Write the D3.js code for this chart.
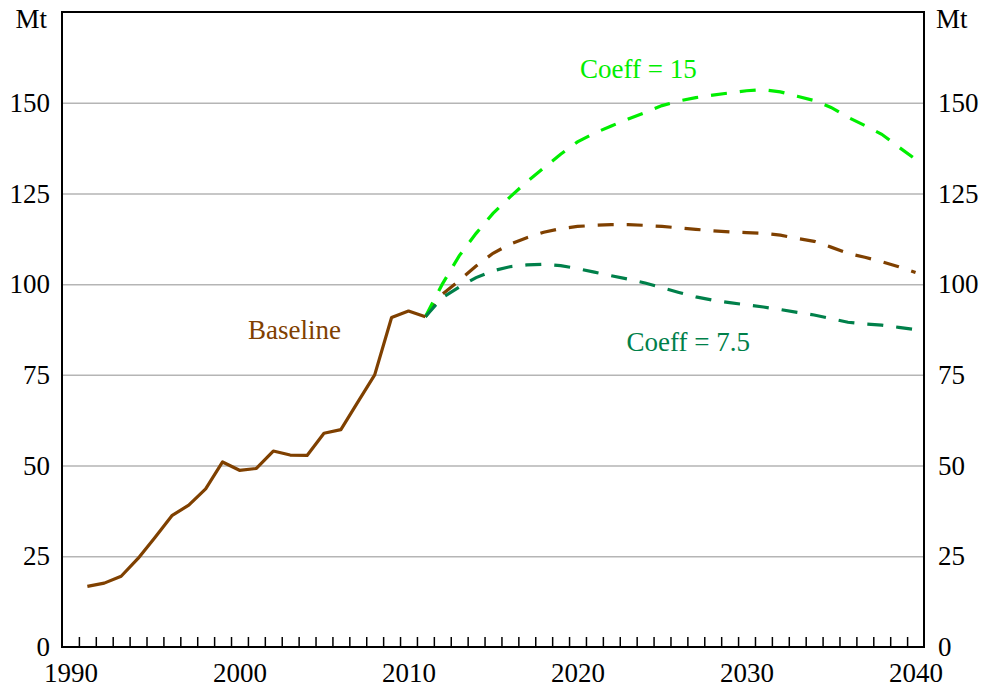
<!DOCTYPE html>
<html>
<head>
<meta charset="utf-8">
<script src="https://cdn.jsdelivr.net/npm/d3@7"></script>
<style>
	body { margin: 0; background: #fff; }
	text { font-family: 'Liberation Serif', 'Times New Roman', serif; }
</style>
</head>
<body>
<div id="canvas"></div>
<script>
// historical series
const baselineYears = [1991, 1992, 1993, 1994, 1995, 1996, 1997, 1998, 1999, 2000, 2001,
	2002, 2003, 2004, 2005, 2006, 2007, 2008, 2009, 2010, 2011];
const baselineValues = [16.7, 17.6, 19.5, 24.4, 30.2, 36.2, 39.1, 43.6, 51.0, 48.7, 49.2,
	54.0, 52.9, 52.8, 58.9, 59.9, 67.5, 75.0, 90.8, 92.6, 91.0];

// projections
const projYears = [2011, 2012, 2013, 2014, 2015, 2016, 2017, 2018, 2019, 2020,
	2021, 2022, 2023, 2024, 2025, 2026, 2027, 2028, 2029, 2030,
	2031, 2032, 2033, 2034, 2035, 2036, 2037, 2038, 2039, 2040];
const baselineProj = [91.0, 97.2, 101.0, 105.0, 108.5, 111.0, 112.8, 114.3, 115.3, 115.9,
	116.2, 116.4, 116.4, 116.2, 115.9, 115.5, 115.1, 114.7, 114.4, 114.2,
	114.0, 113.5, 112.6, 111.8, 110.2, 108.5, 107.4, 106.2, 104.8, 103.2];
const coeff15 = [91.0, 100.0, 107.8, 114.0, 119.5, 124.0, 128.2, 132.0, 135.8, 139.2,
	141.6, 143.6, 145.5, 147.3, 149.2, 150.5, 151.4, 152.1, 152.7, 153.3,
	153.6, 153.0, 151.8, 150.6, 148.7, 146.0, 143.7, 141.3, 137.8, 134.4];
const coeff75 = [91.0, 96.3, 99.2, 101.8, 103.7, 104.8, 105.3, 105.5, 105.1, 104.3,
	103.3, 102.3, 101.4, 100.3, 99.0, 97.7, 96.5, 95.6, 94.9, 94.3,
	93.7, 93.0, 92.2, 91.5, 90.5, 89.5, 89.0, 88.7, 88.1, 87.5];

const yTicks = [0, 25, 50, 75, 100, 125, 150];
const yearLabels = [1990, 2000, 2010, 2020, 2030, 2040];

const brown = '#7f4000';
const lime = '#00ee00';
const darkGreen = '#00804a';

const w = 986;
const h = 689;
const plotLeft = 62, plotRight = 924, plotTop = 12, plotBottom = 647;

// annual data sits mid-year, ticks mark year boundaries
const xScale = d3.scaleLinear()
									.domain([1990, 2041])
									.range([plotLeft, plotRight]);

const yScale = d3.scaleLinear()
									.domain([0, 175])
									.range([plotBottom, plotTop]);

const svg = d3.select('#canvas')
							.append('svg')
							.attr('width', w)
							.attr('height', h);

// gridlines
svg.append('g')
		.attr('transform', 'translate(' + plotLeft + ', 0)')
		.call(d3.axisLeft(yScale).tickValues(yTicks.slice(1)).tickSize(-(plotRight - plotLeft)).tickFormat(''))
		.call(g => g.select('.domain').remove())
		.call(g => g.selectAll('line').attr('stroke', '#b5b5b5').attr('stroke-width', 1.5));

// frame
svg.append('rect')
		.attr('x', plotLeft)
		.attr('y', plotTop)
		.attr('width', plotRight - plotLeft)
		.attr('height', plotBottom - plotTop)
		.attr('fill', 'none')
		.attr('stroke', '#000')
		.attr('stroke-width', 2);

// yearly ticks pointing up
svg.append('g')
		.attr('transform', 'translate(0, ' + plotBottom + ')')
		.call(d3.axisBottom(xScale).tickValues(d3.range(1991, 2041)).tickSize(-10).tickFormat(''))
		.call(g => g.select('.domain').remove())
		.call(g => g.selectAll('line').attr('stroke', '#000').attr('stroke-width', 1.5));

// year labels
svg.append('g')
		.attr('transform', 'translate(0, ' + plotBottom + ')')
		.call(d3.axisBottom(xScale).tickValues(yearLabels.map(d => d + 0.5)).tickSize(0).tickPadding(16).tickFormat(d => Math.floor(d)))
		.call(g => g.select('.domain').remove())
		.call(g => g.selectAll('text').attr('font-size', 27).attr('fill', '#000').attr('font-family', 'Liberation Serif'));

// y labels both sides
svg.append('g')
		.attr('transform', 'translate(' + plotLeft + ', 0)')
		.call(d3.axisLeft(yScale).tickValues(yTicks).tickSize(0).tickPadding(12))
		.call(g => g.select('.domain').remove())
		.call(g => g.selectAll('text').attr('font-size', 27).attr('fill', '#000').attr('font-family', 'Liberation Serif'));

svg.append('g')
		.attr('transform', 'translate(' + plotRight + ', 0)')
		.call(d3.axisRight(yScale).tickValues(yTicks).tickSize(0).tickPadding(14))
		.call(g => g.select('.domain').remove())
		.call(g => g.selectAll('text').attr('font-size', 27).attr('fill', '#000').attr('font-family', 'Liberation Serif'));

svg.append('text')
		.attr('x', plotLeft - 15)
		.attr('y', 28)
		.attr('text-anchor', 'end')
		.attr('font-size', 27)
		.text('Mt');

svg.append('text')
		.attr('x', plotRight + 12)
		.attr('y', 28)
		.attr('font-size', 27)
		.text('Mt');

const line = d3.line()
								.x(d => xScale(d[0] + 0.5))
								.y(d => yScale(d[1]));

const zip = (xs, ys) => xs.map((x, i) => [x, ys[i]]);

svg.append('path')
		.attr('d', line(zip(projYears, baselineProj)))
		.attr('fill', 'none')
		.attr('stroke', brown)
		.attr('stroke-width', 3.2)
		.attr('stroke-dasharray', '16,13');

svg.append('path')
		.attr('d', line(zip(projYears, coeff15)))
		.attr('fill', 'none')
		.attr('stroke', lime)
		.attr('stroke-width', 3.2)
		.attr('stroke-dasharray', '16,13');

svg.append('path')
		.attr('d', line(zip(projYears, coeff75)))
		.attr('fill', 'none')
		.attr('stroke', darkGreen)
		.attr('stroke-width', 3.2)
		.attr('stroke-dasharray', '16,13');

svg.append('path')
		.attr('d', line(zip(baselineYears, baselineValues)))
		.attr('fill', 'none')
		.attr('stroke', brown)
		.attr('stroke-width', 3.2)
		.attr('stroke-linejoin', 'round');

// series labels
svg.append('text')
		.attr('x', xScale(2001))
		.attr('y', yScale(85))
		.attr('font-size', 27)
		.attr('fill', brown)
		.text('Baseline');

svg.append('text')
		.attr('x', xScale(2020.65))
		.attr('y', yScale(156.8))
		.attr('font-size', 27)
		.attr('fill', lime)
		.text('Coeff = 15');

svg.append('text')
		.attr('x', xScale(2023.4))
		.attr('y', yScale(81.5))
		.attr('font-size', 27)
		.attr('fill', darkGreen)
		.text('Coeff = 7.5');
</script>
</body>
</html>
